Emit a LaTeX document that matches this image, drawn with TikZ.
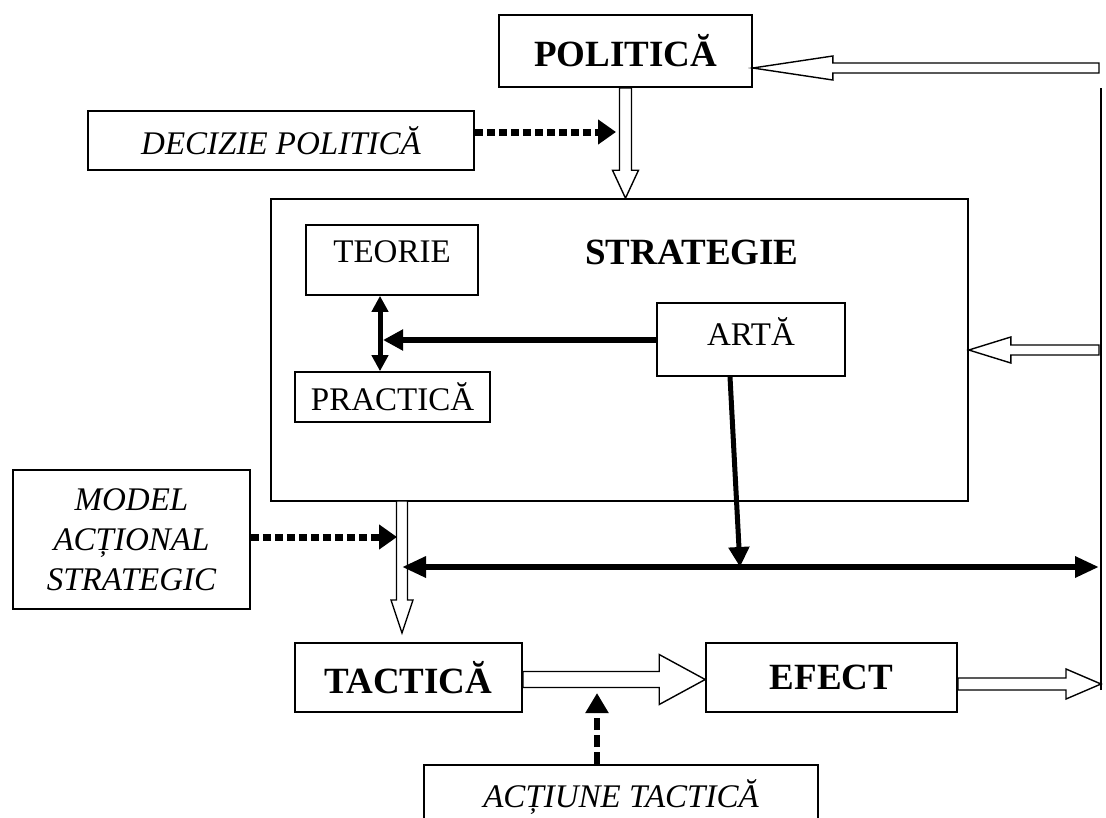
\documentclass[tikz,border=0pt]{standalone}
\usepackage{fontspec}
\setmainfont{Liberation Serif}
\usetikzlibrary{arrows.meta,calc}

\tikzset{
  box/.style={draw, line width=1.6pt, inner sep=0pt, align=center},
  bigbold/.style={font=\fontsize{37}{44}\selectfont\bfseries},
  plain/.style={font=\fontsize{33}{40}\selectfont},
  slant/.style={font=\fontsize{33}{40}\selectfont\itshape},
  thickarrow/.style={line width=5pt, -{Triangle[length=20pt,width=20pt]}},
  dotarrow/.style={line width=7pt, dash pattern=on 8pt off 4pt,
                   -{Triangle[length=18pt,width=24pt]}},
  % hollow block arrow: shaft half-width, head half-width, head length
  hollow/.style n args={3}{to path={
    let \p1=(\tikztostart), \p2=(\tikztotarget),
        \n1={atan2(\y2-\y1,\x2-\x1)}, \n2={veclen(\x2-\x1,\y2-\y1)},
        \n3={cos(\n1)}, \n4={sin(\n1)} in
    ({\x1-(#1)*\n4},{\y1+(#1)*\n3})
    -- ({\x1+((\n2)-(#3))*\n3-(#1)*\n4},{\y1+((\n2)-(#3))*\n4+(#1)*\n3})
    -- ({\x1+((\n2)-(#3))*\n3-(#2)*\n4},{\y1+((\n2)-(#3))*\n4+(#2)*\n3})
    -- (\x2,\y2)
    -- ({\x1+((\n2)-(#3))*\n3+(#2)*\n4},{\y1+((\n2)-(#3))*\n4-(#2)*\n3})
    -- ({\x1+((\n2)-(#3))*\n3+(#1)*\n4},{\y1+((\n2)-(#3))*\n4-(#1)*\n3})
    -- ({\x1+(#1)*\n4},{\y1-(#1)*\n3})
    -- cycle}},
  hollowline/.style={draw, fill=white, line width=1.4pt, line join=miter}
}

\begin{document}
\begin{tikzpicture}[x=1pt,y=-1pt]
\path[use as bounding box] (0,0) rectangle (1106,817);
\clip (0,0) rectangle (1106,817);

% boxes
\node[box, minimum width=253pt, minimum height=72pt, bigbold] (politica) at (625.5,51) {POLITICĂ};
\node[box, minimum width=386pt, minimum height=59pt, slant] (decizie) at (281,140.5) {DECIZIE POLITICĂ};
\node[box, minimum width=697pt, minimum height=302pt] (strategie) at (619.5,350) {};
\node[bigbold] (strattitle) at (692,252) {STRATEGIE};
\node[box, minimum width=172pt, minimum height=70pt,
      label={[plain, yshift=8pt]center:TEORIE}] (teorie) at (392,260) {};
\node[box, minimum width=188pt, minimum height=73pt,
      label={[plain, yshift=8pt]center:ARTĂ}] (arta) at (751,339.5) {};
\node[box, minimum width=195pt, minimum height=50pt, plain] (practica) at (392.5,397) {PRACTICĂ};
\node[box, minimum width=237pt, minimum height=139pt, slant] (model) at (131.5,539.5)
     {MODEL\\ ACȚIONAL\\ STRATEGIC};
\node[box, minimum width=227pt, minimum height=69pt, bigbold] (tactica) at (408.5,677.5) {TACTICĂ};
\node[box, minimum width=251pt, minimum height=69pt, bigbold] (efect) at (831.5,677.5) {EFECT};
\node[box, minimum width=394pt, minimum height=72pt,
      label={[slant, yshift=4pt]center:ACȚIUNE TACTICĂ}] (actiune) at (621,801) {};

% free ends of connectors
\coordinate (fbtop) at (1099,68);
\coordinate (rtop) at (1101,88);
\coordinate (rbot) at (1101,690);
\coordinate (fbmid) at (1099,350);
\coordinate (efout) at (1101,684);
\coordinate (sdown) at (402,501);
\coordinate (sdtip) at (402,633);
\coordinate (pd) at (616,132);
\coordinate (md) at (397,537);
\coordinate (hl) at (402,567);
\coordinate (hr) at (1099,567);
\coordinate (hb) at (740,567);
\coordinate (tp) at (383,340);
\coordinate (ad) at (597,693);

% hollow block arrows
\path[hollowline] (politica.south) to[hollow={6}{13}{28}] (politica.south |- strategie.north);
\path[hollowline] (fbtop) to[hollow={5}{12}{80}] (politica.east |- fbtop);
\path[hollowline] (fbmid) to[hollow={5}{13}{42}] (strategie.east |- fbmid);
\path[hollowline] (sdown) to[hollow={5.5}{11}{33}] (sdtip);
\path[hollowline] ($(tactica.east)+(0,2)$) to[hollow={8}{25}{46}] ($(efect.west)+(0,2)$);
\path[hollowline] (efect.east |- efout) to[hollow={6}{15}{35}] (efout);

% feedback line on the right
\draw[line width=1.6pt] (rbot) -- (rtop);

% dotted inputs
\draw[dotarrow] (decizie.east |- pd) -- (pd);
\draw[dotarrow] (model.east |- md) -- (md);
\draw[line width=6pt, dash pattern=on 12pt off 5pt, -{Triangle[length=20pt,width=22pt]}]
  (actiune.north -| ad) -- (ad);

% solid black arrows inside and below STRATEGIE
\draw[line width=5pt, {Triangle[length=16pt,width=16pt]}-{Triangle[length=16pt,width=16pt]}]
  ($(teorie.south)+(-12,0)$) -- ($(practica.north)+(-12.5,0)$);
\draw[thickarrow, line width=6pt] (arta.west |- tp) -- (tp);
\draw[thickarrow] ($(arta.south)+(-21,0)$) -- (hb);
\draw[line width=6pt, {Triangle[length=24pt,width=20pt]}-{Triangle[length=24pt,width=20pt]}] (hl) -- (hr);

\end{tikzpicture}
\end{document}
